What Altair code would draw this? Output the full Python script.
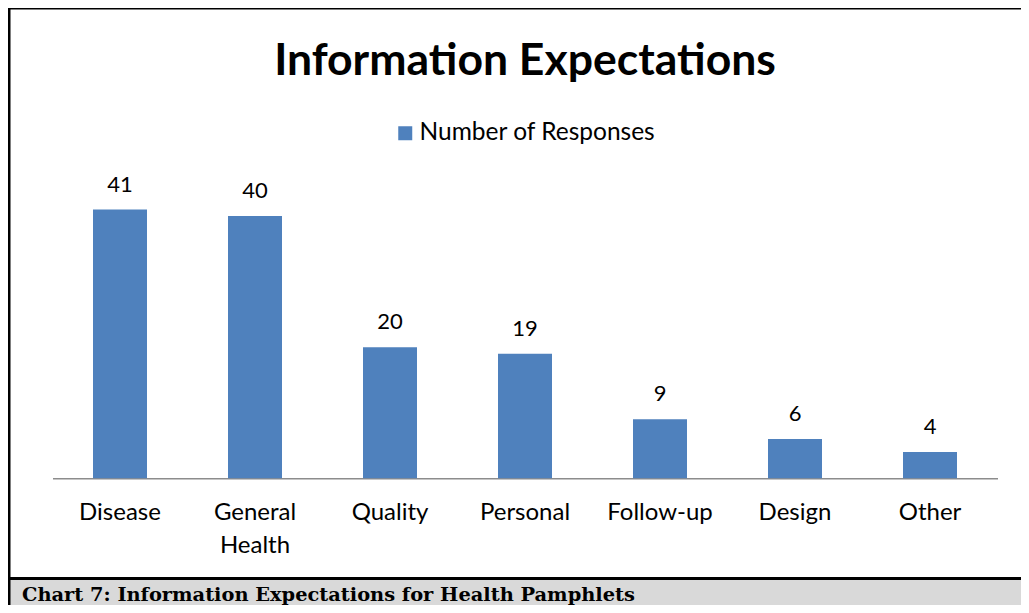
import altair as alt
import pandas as pd

# ---- data ----
categories = ["Disease", "General Health", "Quality", "Personal", "Follow-up", "Design", "Other"]
responses = [41, 40, 20, 19, 9, 6, 4]
series_name = "Number of Responses"
title_text = "Information Expectations"
caption_text = "Chart 7: Information Expectations for Health Pamphlets"

df = pd.DataFrame({
    "category": categories,
    "value": responses,
    "series": [series_name] * len(categories),
})

BLUE = "#4f81bd"
FONT = "Lato"
SERIF = "DejaVu Serif"

# plot area: 945 x 295, origin placed at page (52.5, 183.3)
W, H = 945, 295
PADL, PADT = 44.5, 175.3
TOTAL_W, TOTAL_H = 1013, 597
PADR = TOTAL_W - PADL - W
PADB = TOTAL_H - PADT - H


def px(page_x):
    return page_x - 8 - PADL


def py(page_y):
    return page_y - 8 - PADT


x_enc = alt.X(
    "category:N",
    sort=categories,
    scale=alt.Scale(paddingInner=0.6, paddingOuter=0.3),
    axis=alt.Axis(
        title=None,
        labelAngle=0,
        labelExpr="split(datum.value, ' ')",
        labelFont=FONT,
        labelFontSize=24,
        labelColor="black",
        labelBaseline="top",
        labelPadding=22,
        labelLineHeight=33,
        labelLimit=300,
        ticks=False,
        domainColor="#8c8c8c",
        domainWidth=1.6,
    ),
)
y_enc = alt.Y("value:Q", scale=alt.Scale(domain=[0, 45]), axis=None)

bars = alt.Chart(df).mark_bar(size=54).encode(
    x=x_enc,
    y=y_enc,
    color=alt.Color(
        "series:N",
        scale=alt.Scale(range=[BLUE]),
        legend=alt.Legend(
            title=None,
            orient="none",
            legendX=px(393),
            legendY=py(121),
            symbolType="square",
            symbolSize=196,
            symbolStrokeWidth=0,
            symbolOpacity=1,
            labelFont=FONT,
            labelFontSize=24.5,
            labelColor="black",
            labelOffset=2,
            labelLimit=400,
            padding=0,
        ),
    ),
)

values = alt.Chart(df).mark_text(
    dy=-18, baseline="alphabetic", align="center", font=FONT, fontSize=22, color="black"
).encode(x=x_enc, y=y_enc, text="value:Q")

title = alt.Chart(pd.DataFrame({"t": [title_text]})).mark_text(
    font=FONT, fontSize=44.5, fontWeight="bold", align="center", baseline="alphabetic", color="black"
).encode(x=alt.value(px(525)), y=alt.value(py(75)), text="t:N")

caption_bg = alt.Chart(pd.DataFrame({"k": [0]})).mark_rect(color="#d9d9d9").encode(
    x=alt.value(px(8)), x2=alt.value(px(1029)), y=alt.value(py(580)), y2=alt.value(py(613))
)
caption_line = alt.Chart(pd.DataFrame({"k": [0]})).mark_rule(color="black", strokeWidth=3).encode(
    x=alt.value(px(8)), x2=alt.value(px(1029)), y=alt.value(py(578.5))
)
top_line = alt.Chart(pd.DataFrame({"k": [0]})).mark_rule(color="black", strokeWidth=1.5).encode(
    x=alt.value(px(8)), x2=alt.value(px(1029)), y=alt.value(py(8.75))
)
left_line = alt.Chart(pd.DataFrame({"k": [0]})).mark_rule(color="black", strokeWidth=2.5).encode(
    x=alt.value(px(9.25)), y=alt.value(py(8)), y2=alt.value(py(613))
)
caption = alt.Chart(pd.DataFrame({"t": [caption_text]})).mark_text(
    font=SERIF, fontSize=19.4, fontWeight="bold", align="left", baseline="alphabetic", color="black"
).encode(x=alt.value(px(22)), y=alt.value(py(600.5)), text="t:N")

chart = alt.layer(
    caption_bg, caption_line, top_line, left_line, bars, values, title, caption
).properties(
    width=W,
    height=H,
    autosize=alt.AutoSizeParams(type="none"),
    padding={"left": PADL, "top": PADT, "right": PADR, "bottom": PADB},
    background="white",
).configure_view(stroke=None)

chart.save("out.html", embed_options={"renderer": "svg", "actions": False})
